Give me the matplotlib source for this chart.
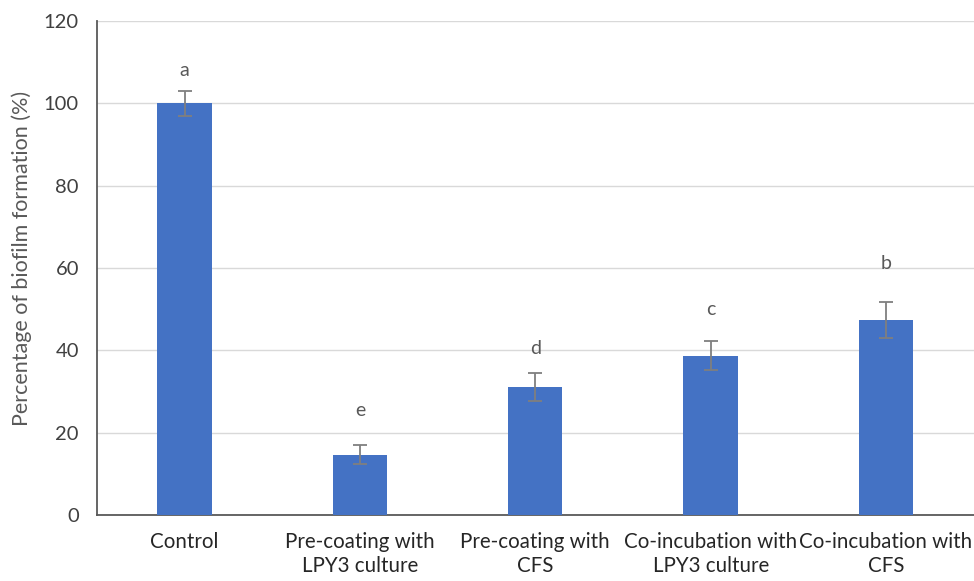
import matplotlib.pyplot as plt
import numpy as np

# Data
categories = ['Control', 'Pre-coating with\nLPY3 culture', 'Pre-coating with\nCFS',
              'Co-incubation with\nLPY3 culture', 'Co-incubation with\nCFS']
values = [100, 14.6, 31.1, 38.7, 47.4]
errors = [3.0, 2.3, 3.3, 3.5, 4.3]
letters = ['a', 'e', 'd', 'c', 'b']
letter_y = [108, 25.5, 40.5, 49.8, 61.2]

plt.rcParams['font.family'] = ['Lato', 'DejaVu Sans']

fig = plt.figure(figsize=(9.74, 5.81), dpi=100)
ax = fig.add_axes([0.0996, 0.1136, 0.9, 0.8503])

x = np.arange(len(categories))
ax.bar(x, values, width=0.31, color='#4472C4', zorder=3)
ax.errorbar(x, values, yerr=errors, fmt='none', ecolor='#7f7f7f',
            elinewidth=1.3, capsize=5, capthick=1.3, zorder=4)

for xi, lab, ly in zip(x, letters, letter_y):
    ax.text(xi, ly, lab, ha='center', va='center', fontsize=14, color='#595959')

ax.set_xlim(-0.5, len(categories) - 0.5)
ax.set_ylim(0, 120)
ax.set_yticks(range(0, 121, 20))
ax.set_xticks(x)
ax.set_xticklabels(categories, fontsize=14.8, color='#262626', linespacing=1.3)
ax.tick_params(axis='y', labelsize=14.5, labelcolor='#404040', length=0, pad=13)
ax.tick_params(axis='x', length=0, pad=12)

ax.yaxis.grid(True, color='#d9d9d9', linewidth=1)
ax.set_axisbelow(True)
for s in ['top', 'right']:
    ax.spines[s].set_visible(False)
for s in ['left', 'bottom']:
    ax.spines[s].set_color('#595959')
    ax.spines[s].set_linewidth(1.3)

ax.set_ylabel('Percentage of biofilm formation (%)', fontsize=15.5, color='#595959')
ax.yaxis.set_label_coords(-0.074, 0.52)

fig.savefig('out.png', dpi=100)
